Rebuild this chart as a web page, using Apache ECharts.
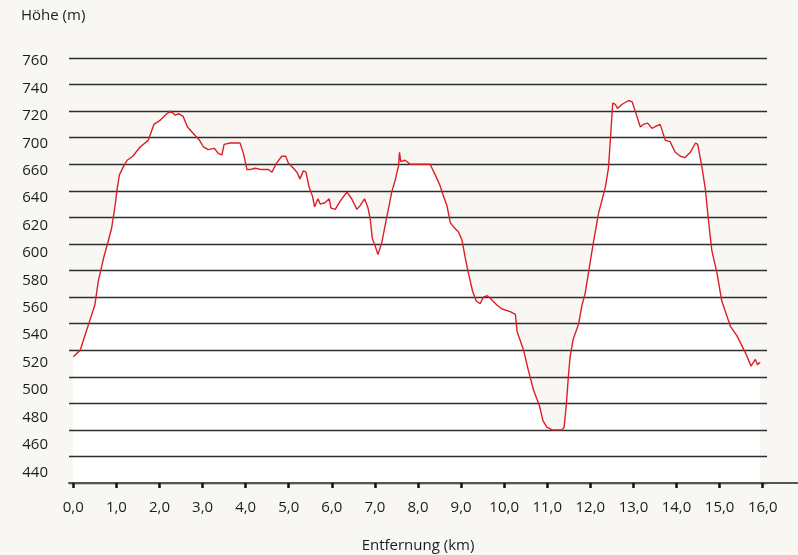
<!DOCTYPE html>
<html>
<head>
<meta charset="utf-8">
<title>Höhenprofil</title>
<script src="https://cdn.jsdelivr.net/npm/echarts@6/dist/echarts.min.js"></script>
<style>
  html, body { margin: 0; padding: 0; background: #f8f7f3; }
  #main { width: 798px; height: 555px; }
</style>
</head>
<body>
<div id="main"></div>
<script type="text/javascript">
// Entfernung (km) und Höhe (m)
var distKm = [0.00, 0.16, 0.27, 0.39, 0.50, 0.58, 0.70, 0.81, 0.89, 0.97,
  1.02, 1.07, 1.16, 1.25, 1.38, 1.55, 1.74, 1.87, 2.01, 2.17,
  2.26, 2.36, 2.45, 2.55, 2.65, 2.79, 2.93, 3.02, 3.13, 3.27,
  3.37, 3.45, 3.50, 3.64, 3.87, 3.95, 4.03, 4.10, 4.22, 4.37,
  4.53, 4.61, 4.72, 4.84, 4.93, 4.99, 5.11, 5.19, 5.26, 5.34,
  5.40, 5.47, 5.55, 5.60, 5.68, 5.73, 5.84, 5.94, 5.98, 6.08,
  6.19, 6.35, 6.46, 6.58, 6.66, 6.76, 6.84, 6.89, 6.94, 7.01,
  7.07, 7.16, 7.25, 7.33, 7.39, 7.47, 7.55, 7.57, 7.60, 7.70,
  7.82, 8.05, 8.28, 8.40, 8.51, 8.58, 8.67, 8.75, 8.82, 8.94,
  9.02, 9.10, 9.17, 9.27, 9.35, 9.44, 9.52, 9.61, 9.71, 9.83,
  9.95, 10.14, 10.26, 10.30, 10.45, 10.56, 10.68, 10.82, 10.90, 10.99,
  11.11, 11.34, 11.39, 11.44, 11.49, 11.53, 11.60, 11.73, 11.80, 11.88,
  11.98, 12.07, 12.19, 12.35, 12.42, 12.48, 12.52, 12.58, 12.63, 12.73,
  12.89, 12.97, 13.04, 13.16, 13.23, 13.33, 13.43, 13.55, 13.62, 13.74,
  13.85, 13.97, 14.09, 14.20, 14.32, 14.44, 14.49, 14.59, 14.67, 14.74,
  14.82, 14.94, 15.05, 15.25, 15.40, 15.60, 15.73, 15.83, 15.88, 15.94];

var heightM = [535, 540, 551, 563, 574, 592, 609, 622, 632, 649,
  662, 672, 678, 683, 686, 693, 698, 710, 713, 718,
  720, 717, 718, 716, 708, 703, 698, 693, 691, 692,
  688, 687, 695, 696, 696, 688, 676, 676, 677, 676,
  676, 674, 681, 686, 686, 681, 677, 674, 669, 675,
  674, 663, 656, 648, 654, 650, 651, 654, 647, 646,
  652, 659, 654, 646, 649, 654, 647, 639, 624, 618,
  612, 621, 636, 649, 659, 668, 679, 689, 682, 683,
  680, 680, 680, 672, 664, 657, 649, 636, 633, 629,
  623, 609, 598, 584, 577, 575, 580, 581, 578, 574,
  571, 569, 567, 554, 540, 525, 510, 498, 487, 482,
  480, 480, 482, 498, 520, 535, 548, 560, 573, 583,
  603, 621, 643, 663, 677, 706, 726, 725, 722, 725,
  728, 727, 720, 708, 710, 711, 707, 709, 710, 698,
  697, 689, 686, 685, 689, 696, 695, 678, 661, 638,
  615, 598, 577, 558, 551, 538, 528, 533, 529, 531];

// Beschriftung der Höhenachse (wie im Original, ohne 680)
var yTickLabels = ['440', '460', '480', '500', '520', '540', '560', '580',
  '600', '620', '640', '660', '700', '720', '740', '760'];
var xTicks = [0, 1, 2, 3, 4, 5, 6, 7, 8, 9, 10, 11, 12, 13, 14, 15, 16];

var profile = distKm.map(function (d, i) { return [d, heightM[i]]; });
var labelIdx = yTickLabels.map(function (t, i) { return i; });

var txt = '#1c1c1c';
var font = 'Open Sans';

var myChart = echarts.init(document.getElementById('main'));
var option = {
  backgroundColor: '#f8f7f3',
  animation: false,
  textStyle: { fontFamily: font },
  title: {
    text: 'Höhe (m)', left: 16, top: 3,
    textStyle: { fontFamily: font, fontSize: 15, fontWeight: 'normal', color: txt }
  },
  grid: { left: 69, right: 31, top: 58, bottom: 72, outerBoundsMode: 'none', containLabel: false },
  xAxis: {
    type: 'value', min: -0.1, max: 16.1, z: 4,
    name: 'Entfernung (km)', nameLocation: 'middle', nameGap: 55,
    nameTextStyle: { fontFamily: font, fontSize: 15, color: txt },
    axisLine: { show: true, onZero: false, lineStyle: { color: '#555', width: 2 } },
    axisTick: { show: true, customValues: xTicks, length: 5, lineStyle: { color: '#111', width: 2.5 } },
    axisLabel: {
      customValues: xTicks, margin: 17, fontSize: 15, color: txt, fontFamily: font,
      formatter: function (v) { return v.toFixed(1).replace('.', ','); }
    },
    splitLine: { show: false }
  },
  yAxis: [{
    type: 'value', min: 440, max: 760, interval: 20, z: 2,
    axisLine: { show: false }, axisTick: { show: false },
    axisLabel: { show: false },
    splitLine: { show: true, lineStyle: { color: '#2e2e2e', width: 1.3 } }
  }, {
    type: 'value', position: 'left', min: -0.39, max: 15.11,
    axisLine: { show: false }, axisTick: { show: false }, splitLine: { show: false },
    axisLabel: {
      customValues: labelIdx, margin: 21, fontSize: 15, color: txt, fontFamily: font,
      formatter: function (v) { return yTickLabels[Math.round(v)]; }
    }
  }],
  graphic: [{
    type: 'line', z: 5,
    shape: { x1: 767, y1: 483, x2: 798, y2: 483 },
    style: { stroke: '#555', lineWidth: 2 }
  }],
  series: [{
    type: 'line', data: profile, yAxisIndex: 0, z: 1,
    showSymbol: false, silent: true,
    lineStyle: { width: 0 },
    areaStyle: { color: '#ffffff', opacity: 1 }
  }, {
    type: 'line', data: profile, yAxisIndex: 0, z: 3,
    showSymbol: false,
    lineStyle: { color: '#dc1f26', width: 1.4 }
  }]
};
myChart.setOption(option);
</script>
</body>
</html>
